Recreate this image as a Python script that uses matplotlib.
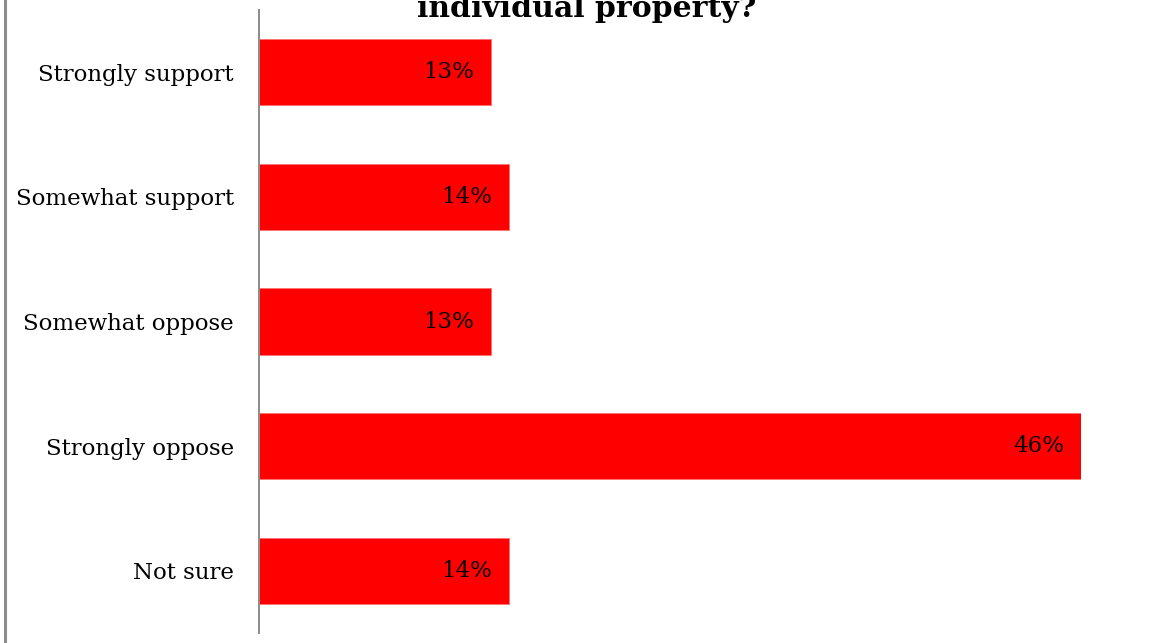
import matplotlib
matplotlib.use("Agg")
import matplotlib.pyplot as plt
from matplotlib.lines import Line2D

categories = ["Strongly support", "Somewhat support", "Somewhat oppose", "Strongly oppose", "Not sure"]
values = [13, 14, 13, 46, 14]
value_labels = ["13%", "14%", "13%", "46%", "14%"]
title_text = "individual property?"

W, H = 1151, 643
fig = plt.figure(figsize=(W / 100, H / 100), dpi=100)
fig.patch.set_facecolor("white")

serif = ["DejaVu Serif"]

# plot area: y axis line at x=259 px, running from y=10 to y=633 px
ax_left, ax_right = 259 / W, 1081 / W
ax_top, ax_bottom = 1 - 10 / H, 1 - 633 / H
ax = fig.add_axes([ax_left, ax_bottom, ax_right - ax_left, ax_top - ax_bottom])

n = len(categories)
ypos = list(range(n))
ax.barh(ypos, values, height=0.53, color="#ff0000", edgecolor="#ff7070", linewidth=0.6)
ax.set_xlim(0, 46)
ax.set_ylim(n - 0.5, -0.5)

ax.set_yticks(ypos)
ax.set_yticklabels(categories, fontsize=16.5, family=serif, color="#000000")
ax.tick_params(axis="y", length=0, pad=18)
ax.set_xticks([])

for s in ["top", "right", "bottom"]:
    ax.spines[s].set_visible(False)
ax.spines["left"].set_color("#8c8c8c")
ax.spines["left"].set_linewidth(1.4)

for y, v, lab in zip(ypos, values, value_labels):
    ax.text(v - 0.95, y, lab, ha="right", va="center", fontsize=16.5,
            family=serif, color="#000000")

# title line (upper part runs off the top edge)
fig.text(587 / W, 1 - 17 / H, title_text, ha="center", va="baseline",
         fontsize=21.5, fontweight="bold", family=serif, color="#000000")

# grey frame line on the left side
fig.add_artist(Line2D([5 / W, 5 / W], [0, 1], transform=fig.transFigure,
                      color="#8c8c8c", linewidth=2.2))

fig.savefig("out.png", dpi=100, facecolor="white")
